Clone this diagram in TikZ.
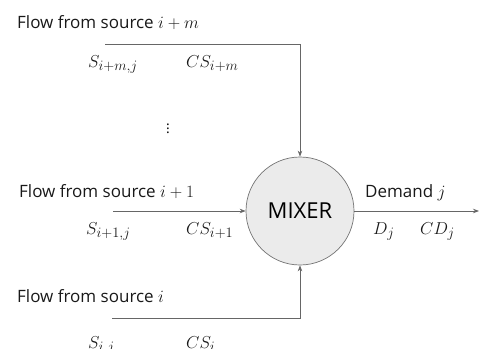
\documentclass[tikz,border=0pt]{standalone}
\usepackage{fontspec}
\setmainfont{Open Sans}
\DeclareMathSizes{18}{18}{15}{12}
\DeclareMathSizes{17}{17}{13}{10}
\usetikzlibrary{arrows.meta}
\begin{document}
\begin{tikzpicture}[x=1pt,y=-1pt,
  lbl/.style={anchor=base west,inner sep=0pt,font=\fontsize{17}{20}\selectfont,text=black!90},
  mlbl/.style={anchor=base west,inner sep=0pt,font=\fontsize{18}{22}\selectfont,text=black!90},
  conn/.style={draw=black!60,line width=0.8pt},
  arr/.style={conn,-{Stealth[length=6pt,width=4.5pt]}}]
\useasboundingbox (0,0) rectangle (479,348);
\node[circle,draw=black!55,fill=black!8,line width=0.7pt,minimum size=108pt,inner sep=0pt,font=\fontsize{22}{24}\selectfont] (mixer) at (300,211) {MIXER};
\node[lbl] (t1) at (17,28) {Flow from source $i+m$};
\node[mlbl] (s1) at (88,67) {$S_{i+m,j}$};
\node[mlbl] (cs1) at (186,67) {$CS_{i+m}$};
\node[inner sep=0pt,font=\fontsize{14}{16}\selectfont] (dots) at (168,126) {$\vdots$};
\node[lbl] (t2) at (19,197) {Flow from source $i+1$};
\node[mlbl] (s2) at (86,234) {$S_{i+1,j}$};
\node[mlbl] (cs2) at (186,234) {$CS_{i+1}$};
\node[lbl] (dem) at (365,197) {Demand $j$};
\node[mlbl] (dj) at (373,234) {$D_j$};
\node[mlbl] (cdj) at (420,234) {$CD_j$};
\node[lbl] (t3) at (17,302) {Flow from source $i$};
\node[mlbl] (s3) at (88,348) {$S_{i,j}$};
\node[mlbl] (cs3) at (186,348) {$CS_i$};
\coordinate (a1) at (105,44);
\coordinate (a2) at (113,211);
\coordinate (a3) at (479,211);
\coordinate (a4) at (112,318);
\draw[arr] (a1) -| (mixer.north);
\draw[arr] (a2) -- (mixer.west);
\draw[arr] (mixer.east) -- (a3);
\draw[arr] (a4) -| (mixer.south);
\end{tikzpicture}
\end{document}
